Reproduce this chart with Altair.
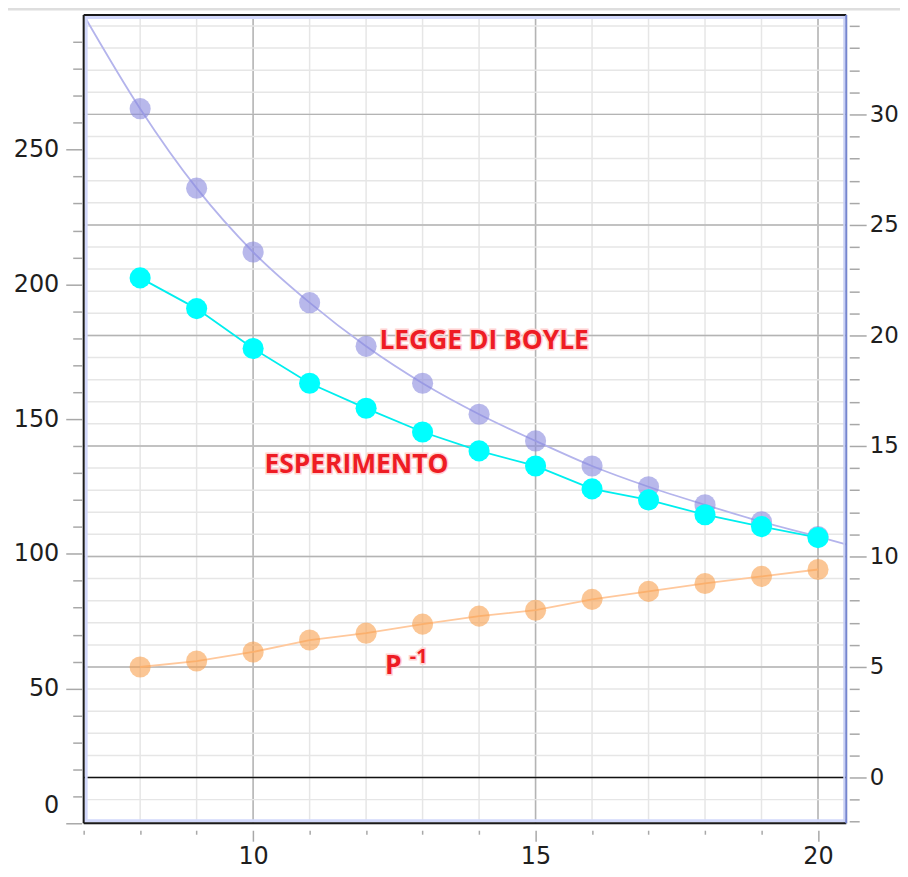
import altair as alt
import pandas as pd

# ---------------- data ----------------
x_vals = [8, 9, 10, 11, 12, 13, 14, 15, 16, 17, 18, 19, 20]
boyle = [265.2, 235.7, 212.0, 193.2, 177.0, 163.3, 151.8, 141.9, 132.6, 124.9, 118.2, 111.9, 106.4]
esperimento = [202.4, 191.0, 176.2, 163.3, 154.0, 145.2, 138.2, 132.6, 124.1, 120.0, 114.5, 110.1, 106.0]
p_inv = [5.0, 5.27, 5.68, 6.22, 6.53, 6.94, 7.30, 7.57, 8.06, 8.42, 8.78, 9.10, 9.41]

# traced ends of the Boyle curve outside the sampled points
boyle_curve_start = (7.0, 300.0)
boyle_curve_end = (20.5, 103.5)

# axes
x_domain = [7, 20.5]
x_ticks = list(range(7, 21))
x_labels = [10, 15, 20]
left_domain = [0, 300]
left_ticks = list(range(0, 300, 10))
left_labels = [0, 50, 100, 150, 200, 250]
right_domain = [-2.07, 34.5]
right_ticks = list(range(-2, 35))
right_labels = [0, 5, 10, 15, 20, 25, 30]

# annotations (data coordinates, left scale)
ann_text = ["LEGGE DI BOYLE", "ESPERIMENTO", "P"]
ann_x = [14.09, 11.83, 12.48]
ann_y = [178.8, 133.0, 58.2]
sup_text = ["-1"]
sup_x = [12.93]
sup_y = [61.6]

W, H = 766, 812

# ---------------- tables ----------------
df_pts = pd.DataFrame({"x": x_vals, "boyle": boyle, "esp": esperimento, "pinv": p_inv})
df_bline = pd.DataFrame({
    "x": [boyle_curve_start[0]] + x_vals + [boyle_curve_end[0]],
    "y": [boyle_curve_start[1]] + boyle + [boyle_curve_end[1]],
})
df_xt = pd.DataFrame({"v": x_ticks})
df_xl = pd.DataFrame({"v": x_labels})
df_rt = pd.DataFrame({"v": right_ticks})
df_rl = pd.DataFrame({"v": [v for v in right_labels if v != 0]})
df_zero = pd.DataFrame({"v": [0]})
df_ann = pd.DataFrame({"x": ann_x, "y": ann_y, "t": ann_text})
df_sup = pd.DataFrame({"x": sup_x, "y": sup_y, "t": sup_text})
one = pd.DataFrame({"a": [0]})

xs = alt.Scale(domain=x_domain, nice=False, zero=False)
ls = alt.Scale(domain=left_domain, nice=False, zero=False)
rs = alt.Scale(domain=right_domain, nice=False, zero=False)

LABEL_FONT = "DejaVu Sans"
LABEL_SIZE = 24
TICK_COL = "#a8a8a8"

x_axis = alt.Axis(
    values=x_ticks,
    labelExpr=f"indexof({x_labels}, datum.value) >= 0 ? datum.label : ''",
    tickSize={"condition": {"test": f"indexof({x_labels}, datum.value) >= 0", "value": 11}, "value": 4},
    tickColor=TICK_COL, tickWidth=1.5, offset=7, domain=False, grid=False,
    labelFont=LABEL_FONT, labelFontSize=LABEL_SIZE, labelColor="#1e1e1e",
    labelPadding=3, labelFlush=False, labelOverlap=False, title=None,
)
left_axis = alt.Axis(
    orient="left", values=left_ticks,
    labelExpr=f"indexof({left_labels}, datum.value) >= 0 ? datum.label : ''",
    tickSize={"condition": {"test": f"indexof({left_labels}, datum.value) >= 0", "value": 16}, "value": 9},
    labelOffset={"condition": {"test": "datum.value === 0", "value": -18}, "value": 0},
    tickColor=TICK_COL, tickWidth=1.5, offset=2, domain=False, grid=False,
    labelFont=LABEL_FONT, labelFontSize=LABEL_SIZE, labelColor="#1e1e1e",
    labelPadding=7, labelFlush=False, labelOverlap=False, title=None,
)
right_axis = alt.Axis(
    orient="right", values=right_ticks,
    labelExpr=f"indexof({right_labels}, datum.value) >= 0 ? datum.label : ''",
    tickSize={"condition": {"test": f"indexof({right_labels}, datum.value) >= 0", "value": 17}, "value": 10},
    tickColor=TICK_COL, tickWidth=1.5, offset=3, domain=False, grid=False,
    labelFont=LABEL_FONT, labelFontSize=23, labelColor="#1e1e1e",
    labelPadding=3, labelFlush=False, labelOverlap=False, title=None,
)

def X(f):
    return alt.X(f, scale=xs, axis=x_axis)

def YL(f):
    return alt.Y(f, scale=ls, axis=left_axis)

def YR(f):
    return alt.Y(f, scale=rs, axis=right_axis)

# ---------------- right-scale group (grid + P^-1) ----------------
vgrid_minor = alt.Chart(df_xt).mark_rule(color="#e6e6e6", strokeWidth=1.5).encode(x=X("v:Q"))
vgrid_major = alt.Chart(df_xl).mark_rule(color="#b4b4b4", strokeWidth=1.5).encode(x=X("v:Q"))
hgrid_minor = alt.Chart(df_rt).mark_rule(color="#e6e6e6", strokeWidth=1.5).encode(y=YR("v:Q"))
hgrid_major = alt.Chart(df_rl).mark_rule(color="#b4b4b4", strokeWidth=1.5).encode(y=YR("v:Q"))
zero_line = alt.Chart(df_zero).mark_rule(color="#111111", strokeWidth=1.5).encode(y=YR("v:Q"))
pinv_line = alt.Chart(df_pts).mark_line(color="#ffc89c", strokeWidth=1.8).encode(
    x=X("x:Q"), y=YR("pinv:Q"))
pinv_pts = alt.Chart(df_pts).mark_circle(size=450, color="#f9a04e", opacity=0.6).encode(
    x=X("x:Q"), y=YR("pinv:Q"))

right_group = alt.layer(vgrid_minor, vgrid_major, hgrid_minor, hgrid_major, zero_line,
                        pinv_line, pinv_pts)

# ---------------- left-scale group (Boyle + experiment) ----------------
b_line = alt.Chart(df_bline).mark_line(color="#b4b4ec", strokeWidth=1.8, interpolate="monotone").encode(
    x=X("x:Q"), y=YL("y:Q"))
b_pts = alt.Chart(df_pts).mark_circle(size=450, color="#8888dd", opacity=0.6).encode(
    x=X("x:Q"), y=YL("boyle:Q"))
e_line = alt.Chart(df_pts).mark_line(color="#00eeee", strokeWidth=1.8).encode(
    x=X("x:Q"), y=YL("esp:Q"))
e_pts = alt.Chart(df_pts).mark_circle(size=450, color="#00ffff", opacity=1).encode(
    x=X("x:Q"), y=YL("esp:Q"))

def label_layers(df, size):
    glow = alt.Chart(df).mark_text(font="Open Sans", fontWeight="bold", fontSize=size,
                                   color="#ffd2d2", stroke="#ffd2d2", strokeWidth=3,
                                   align="center", baseline="middle").encode(
        x=X("x:Q"), y=YL("y:Q"), text="t:N")
    txt = alt.Chart(df).mark_text(font="Open Sans", fontWeight="bold", fontSize=size,
                                  color="#ee1c24", align="center", baseline="middle").encode(
        x=X("x:Q"), y=YL("y:Q"), text="t:N")
    return [glow, txt]

ann = label_layers(df_ann, 26.5) + label_layers(df_sup, 20)

frame = [
    alt.Chart(one).mark_rule(color="#d2d8fb", strokeWidth=3).encode(
        x=alt.value(2.5), y=alt.value(0), y2=alt.value(H)),
    alt.Chart(one).mark_rule(color="#d2d8fb", strokeWidth=3).encode(
        x=alt.value(0), x2=alt.value(W), y=alt.value(2.5)),
    alt.Chart(one).mark_rule(color="#d2d8fb", strokeWidth=3).encode(
        x=alt.value(0), x2=alt.value(W), y=alt.value(H - 2.5)),
    alt.Chart(one).mark_rule(color="#c9d0f4", strokeWidth=2).encode(
        x=alt.value(W - 2), y=alt.value(0), y2=alt.value(H)),
    alt.Chart(one).mark_rule(color="#1a1a1a", strokeWidth=2).encode(
        x=alt.value(0), y=alt.value(0), y2=alt.value(H)),
    alt.Chart(one).mark_rule(color="#1a1a1a", strokeWidth=2).encode(
        x=alt.value(0), x2=alt.value(W), y=alt.value(0)),
    alt.Chart(one).mark_rule(color="#1a1a1a", strokeWidth=2).encode(
        x=alt.value(0), x2=alt.value(W), y=alt.value(H)),
    alt.Chart(one).mark_rule(color="#7585cf", strokeWidth=2).encode(
        x=alt.value(W), y=alt.value(0), y2=alt.value(H)),
    alt.Chart(one).mark_rule(color="#dedede", strokeWidth=3).encode(
        x=alt.value(-80), x2=alt.value(W + 60), y=alt.value(-6)),
]

left_group = alt.layer(b_line, b_pts, e_line, e_pts, *ann, *frame)

chart = alt.layer(right_group, left_group).resolve_scale(y="independent").properties(
    width=W, height=H,
    autosize=alt.AutoSizeParams(type="none"),
    padding={"left": 76, "top": 5, "right": 54, "bottom": 45},
).configure_view(stroke=None).configure(background="white")

chart.save("out.html", embed_options={"renderer": "svg", "actions": False})
